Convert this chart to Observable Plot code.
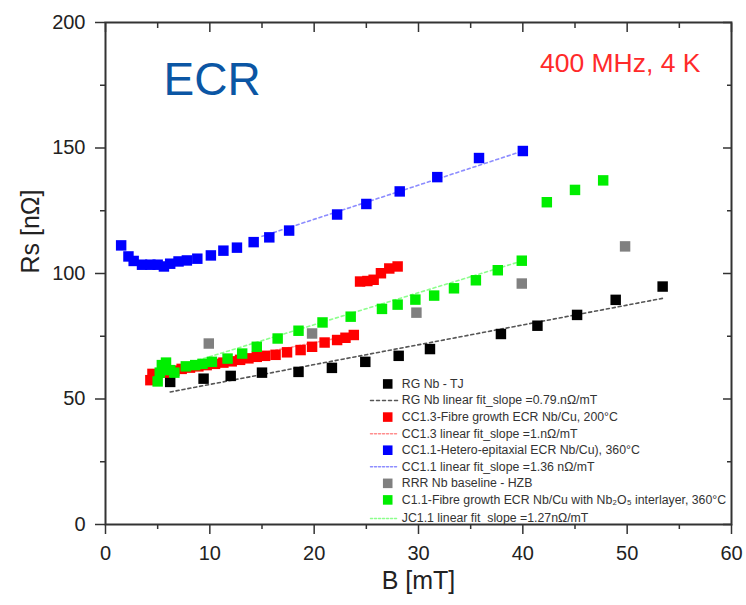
<!DOCTYPE html>
<html><head><meta charset="utf-8">
<script src="https://cdn.jsdelivr.net/npm/d3@7"></script>
<script src="https://cdn.jsdelivr.net/npm/@observablehq/plot@0.6"></script>
<style>body{margin:0;background:#fff}</style>
</head><body><div id="chart"></div>
<script>
// ---- tick values ----
const xTicks = [0, 10, 20, 30, 40, 50, 60];
const xMinor = [5, 15, 25, 35, 45, 55];
const yTicks = [0, 50, 100, 150, 200];
const yMinor = [25, 75, 125, 175];

// ---- series: RG Nb - TJ (black) ----
const rgB  = [6.2, 9.4, 12.0, 15.0, 18.5, 21.7, 24.9, 28.1, 31.1, 37.9, 41.4, 45.2, 48.9, 53.4];
const rgRs = [56.8, 58.1, 59.2, 60.5, 60.8, 62.4, 64.8, 67.2, 69.9, 75.9, 79.2, 83.5, 89.5, 94.8];
const rgFitB = [6.2, 53.4], rgFitRs = [52.8, 90.1];

// ---- CC1.3 (red) ----
const cc13B  = [4.3, 4.5, 5.6, 6.6, 7.3, 8.1, 8.9, 9.7, 10.5, 11.3, 12.1, 12.9, 13.7, 14.5, 15.3, 16.3, 17.4, 18.7, 19.8, 21.0, 22.2, 23.0, 23.8, 24.4, 25.1, 25.7, 26.4, 27.2, 28.0];
const cc13Rs = [57.5, 60.0, 60.5, 61.3, 62.0, 62.5, 63.0, 63.5, 64.0, 64.5, 65.0, 65.6, 66.2, 66.8, 67.2, 67.6, 68.6, 69.5, 70.8, 72.5, 73.5, 74.4, 75.5, 96.8, 97.0, 97.5, 100.1, 102.0, 102.8];
const cc13FitB = [5, 23.5], cc13FitRs = [60.2, 75.3];

// ---- CC1.1 (blue) ----
const cc11B  = [1.5, 2.2, 2.7, 3.5, 4.3, 5.0, 5.6, 6.2, 7.0, 7.8, 8.8, 10.1, 11.3, 12.6, 14.2, 15.7, 17.6, 22.2, 25.0, 28.2, 31.8, 35.8, 40.0];
const cc11Rs = [111.2, 106.8, 105.0, 103.5, 103.5, 103.5, 102.8, 103.9, 104.8, 105.2, 105.9, 107.2, 109.1, 110.3, 112.5, 114.4, 117.1, 123.5, 127.7, 132.7, 138.4, 146.0, 148.8];
const cc11FitB = [15, 40], cc11FitRs = [114.8, 148.8];

// ---- RRR Nb baseline - HZB (gray) ----
const rrrB  = [9.9, 19.8, 29.8, 39.9, 49.8];
const rrrRs = [72.1, 76.1, 84.4, 96.0, 110.8];

// ---- C1.1 (green) ----
const c11B  = [5.0, 5.2, 5.4, 5.8, 6.2, 6.6, 7.7, 8.6, 9.3, 10.2, 11.7, 13.1, 14.5, 16.5, 18.5, 20.8, 23.5, 26.5, 28.0, 29.7, 31.5, 33.4, 35.5, 37.6, 39.9, 42.3, 45.0, 47.7];
const c11Rs = [57.0, 60.5, 63.5, 64.5, 61.5, 60.5, 63.0, 63.5, 64.0, 64.8, 66.1, 68.1, 70.8, 74.1, 77.2, 80.5, 82.8, 85.9, 87.6, 89.6, 91.2, 94.1, 97.3, 101.3, 105.1, 128.4, 133.3, 137.1];
const c11FitB = [5, 40], c11FitRs = [60.5, 105.1];

// ---- legend labels ----
const legendLabels = [
  "RG Nb - TJ",
  "RG Nb linear fit_slope =0.79.nΩ/mT",
  "CC1.3-Fibre growth ECR Nb/Cu, 200°C",
  "CC1.3 linear fit_slope =1.nΩ/mT",
  "CC1.1-Hetero-epitaxial ECR Nb/Cu), 360°C",
  "CC1.1 linear fit_slope =1.36 nΩ/mT",
  "RRR Nb baseline - HZB",
  "C1.1-Fibre growth ECR Nb/Cu with Nb₂O₅ interlayer, 360°C",
  "JC1.1 linear fit_slope =1.27nΩ/mT"
];
const legendKinds  = ["sq", "dash", "sq", "dot", "sq", "dot", "sq", "sq", "dot"];
const legendColors = ["#000000", "#555555", "#ff0000", "#ff8c8c", "#0000ff", "#8c8cff", "#808080", "#00ee00", "#8cff8c"];

const pts = (xs, ys) => xs.map((x, i) => ({x, y: ys[i]}));
const FONT = "'Liberation Sans', Arial, sans-serif";
const R = 5.9; // square marker

const marks = [];
// fit lines (under points)
marks.push(Plot.line(pts(rgFitB, rgFitRs), {x: "x", y: "y", stroke: "#555", strokeWidth: 1.6, strokeDasharray: "3,3"}));
marks.push(Plot.line(pts(cc13FitB, cc13FitRs), {x: "x", y: "y", stroke: "#ff8c8c", strokeWidth: 1.6, strokeDasharray: "2,2"}));
marks.push(Plot.line(pts(cc11FitB, cc11FitRs), {x: "x", y: "y", stroke: "#8c8cff", strokeWidth: 1.6, strokeDasharray: "3,3"}));
marks.push(Plot.line(pts(c11FitB, c11FitRs), {x: "x", y: "y", stroke: "#8cff8c", strokeWidth: 1.6, strokeDasharray: "3,3"}));
// points
marks.push(Plot.dot(pts(rgB, rgRs), {x: "x", y: "y", symbol: "square", r: R, fill: "#000"}));
marks.push(Plot.dot(pts(cc13B, cc13Rs), {x: "x", y: "y", symbol: "square", r: R, fill: "#ff0000"}));
marks.push(Plot.dot(pts(cc11B, cc11Rs), {x: "x", y: "y", symbol: "square", r: R, fill: "#0000ff"}));
marks.push(Plot.dot(pts(rrrB, rrrRs), {x: "x", y: "y", symbol: "square", r: R, fill: "#808080"}));
marks.push(Plot.dot(pts(c11B, c11Rs), {x: "x", y: "y", symbol: "square", r: R, fill: "#00ee00"}));

// legend (positioned in data space, lower right)
const legSymX = 27.05, legLine = [25.4, 28.0], legTextX = 28.4, legTop = 56, legStep = 6.6;
legendLabels.forEach((label, i) => {
  const yv = legTop - i * legStep - (i === 8 ? 0.8 : 0);
  const kind = legendKinds[i], col = legendColors[i];
  if (kind === "sq") {
    marks.push(Plot.dot([0], {x: () => legSymX, y: () => yv, symbol: "square", r: 5.4, fill: col}));
  } else {
    marks.push(Plot.line([legLine[0], legLine[1]], {x: d => d, y: () => yv, stroke: col, strokeWidth: 1.5, strokeDasharray: kind === "dash" ? "3,3" : "2,2"}));
  }
  marks.push(Plot.text([label], {x: () => legTextX, y: () => yv, textAnchor: "start", lineAnchor: "middle", fontSize: 12.3, fill: "#333"}));
});

// annotations
marks.push(Plot.text(["ECR"], {frameAnchor: "top-left", dx: 58, dy: 40, lineAnchor: "top", textAnchor: "start", fontSize: 46, fill: "#0b56a4"}));
marks.push(Plot.text(["400 MHz, 4 K"], {frameAnchor: "top-right", dx: -31, dy: 31, lineAnchor: "top", textAnchor: "end", fontSize: 26.5, fill: "#ff2a2a"}));
// axis titles
marks.push(Plot.text(["B [mT]"], {frameAnchor: "bottom", dy: 56, lineAnchor: "middle", fontSize: 25, fill: "#222"}));
marks.push(Plot.text(["Rs [nΩ]"], {frameAnchor: "left", dx: -75, rotate: -90, lineAnchor: "middle", fontSize: 25, fill: "#222"}));

// axes
marks.push(Plot.axisX({ticks: xTicks, tickSize: 10, tickPadding: 11, fontSize: 20, label: null, tickFormat: d => d, stroke: "#333", strokeWidth: 1.5, fill: "#222"}));
marks.push(Plot.axisX({ticks: xMinor, tickSize: 5, text: null, label: null, stroke: "#333", strokeWidth: 1.5}));
marks.push(Plot.axisX({anchor: "top", ticks: xTicks, tickSize: -9, text: null, label: null, stroke: "#333", strokeWidth: 1.5}));
marks.push(Plot.axisX({anchor: "top", ticks: xMinor, tickSize: -5, text: null, label: null, stroke: "#333", strokeWidth: 1.5}));
marks.push(Plot.axisY({ticks: yTicks, tickSize: 10, tickPadding: 10, fontSize: 20, label: null, tickFormat: d => d, stroke: "#333", strokeWidth: 1.5, fill: "#222"}));
marks.push(Plot.axisY({ticks: yMinor, tickSize: 5, text: null, label: null, stroke: "#333", strokeWidth: 1.5}));
marks.push(Plot.axisY({anchor: "right", ticks: yTicks, tickSize: -9, text: null, label: null, stroke: "#333", strokeWidth: 1.5}));
marks.push(Plot.axisY({anchor: "right", ticks: yMinor, tickSize: -5, text: null, label: null, stroke: "#333", strokeWidth: 1.5}));
marks.push(Plot.frame({stroke: "#333", strokeWidth: 2}));

const chart = Plot.plot({
  width: 746, height: 605,
  marginLeft: 105, marginRight: 15, marginTop: 22, marginBottom: 81,
  x: {domain: [0, 60]},
  y: {domain: [0, 200]},
  style: {fontFamily: FONT, background: "#fff", color: "#222", overflow: "visible"},
  marks
});
document.getElementById("chart").appendChild(chart);
</script>
</body></html>
